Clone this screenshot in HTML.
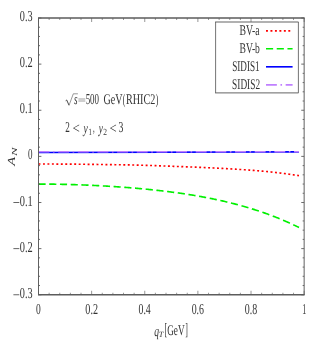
<!DOCTYPE html>
<html><head><meta charset="utf-8"><style>
html,body{margin:0;padding:0;background:#fff;}
svg{display:block}
text{font-family:"Liberation Serif",serif;fill:#333333;text-rendering:geometricPrecision;}
</style></head><body>
<svg width="322" height="343" viewBox="0 0 322 343">
<rect width="322" height="343" fill="#fff"/>
<g style="filter:blur(0.30px)">
<path d="M38.50 164.00 L39.37 164.00 L40.24 164.00 L40.44 164.00 M42.96 164.00 L43.73 164.00 L44.60 164.01 L44.91 164.01 M47.43 164.01 L48.08 164.01 L48.95 164.02 L49.37 164.02 M51.89 164.03 L52.44 164.03 L53.31 164.03 L53.84 164.04 M56.36 164.05 L56.80 164.05 L57.67 164.05 L58.30 164.06 M60.82 164.07 L61.15 164.07 L62.02 164.08 L62.76 164.09 M65.28 164.10 L65.51 164.10 L66.38 164.11 L67.23 164.12 M69.75 164.14 L69.86 164.14 L70.74 164.15 L71.61 164.15 L71.69 164.15 M74.21 164.18 L74.22 164.18 L75.09 164.19 L75.96 164.19 L76.16 164.20 M78.68 164.22 L79.45 164.23 L80.32 164.24 L80.62 164.24 M83.14 164.27 L83.80 164.28 L84.68 164.29 L85.08 164.29 M87.60 164.32 L88.16 164.33 L89.03 164.34 L89.55 164.34 M92.07 164.37 L92.52 164.38 L93.39 164.39 L94.01 164.40 M96.53 164.43 L96.87 164.44 L97.74 164.45 L98.47 164.46 M100.99 164.49 L101.23 164.49 L102.10 164.51 L102.94 164.52 M105.46 164.55 L105.59 164.56 L106.46 164.57 L107.33 164.58 L107.40 164.58 M109.92 164.62 L109.94 164.62 L110.81 164.63 L111.68 164.65 L111.87 164.65 M114.39 164.69 L115.17 164.70 L116.04 164.71 L116.33 164.72 M118.85 164.75 L119.53 164.77 L120.40 164.78 L120.79 164.79 M123.31 164.83 L123.88 164.83 L124.75 164.85 L125.26 164.86 M127.78 164.90 L128.24 164.90 L129.11 164.92 L129.72 164.93 M132.24 164.98 L132.59 164.99 L133.46 165.00 L134.18 165.02 M136.70 165.08 L136.95 165.09 L137.82 165.11 L138.65 165.13 M141.17 165.20 L141.31 165.20 L142.18 165.23 L143.05 165.25 L143.11 165.25 M145.63 165.33 L145.66 165.33 L146.53 165.36 L147.40 165.39 L147.57 165.39 M150.09 165.48 L150.89 165.50 L151.76 165.53 L152.04 165.54 M154.56 165.63 L155.25 165.65 L156.12 165.68 L156.50 165.70 M159.02 165.79 L159.60 165.81 L160.47 165.84 L160.96 165.86 M163.48 165.95 L163.96 165.97 L164.83 166.00 L165.42 166.02 M167.94 166.12 L168.31 166.13 L169.19 166.16 L169.89 166.19 M172.41 166.28 L172.67 166.29 L173.54 166.32 L174.35 166.35 M176.87 166.44 L177.03 166.45 L177.90 166.48 L178.77 166.51 L178.81 166.51 M181.33 166.60 L181.38 166.61 L182.25 166.64 L183.13 166.67 L183.27 166.68 M185.79 166.77 L186.61 166.81 L187.48 166.84 L187.74 166.85 M190.26 166.95 L190.97 166.98 L191.84 167.01 L192.20 167.03 M194.72 167.13 L195.32 167.15 L196.19 167.19 L196.66 167.21 M199.18 167.32 L199.68 167.34 L200.55 167.37 L201.12 167.40 M203.64 167.51 L204.04 167.53 L204.91 167.57 L205.58 167.60 M208.10 167.71 L208.39 167.73 L209.26 167.77 L210.05 167.81 M212.56 167.93 L212.75 167.94 L213.62 167.98 L214.49 168.02 L214.51 168.02 M217.03 168.15 L217.10 168.15 L217.97 168.20 L218.85 168.24 L218.97 168.25 M221.49 168.38 L222.33 168.43 L223.20 168.47 L223.43 168.49 M225.95 168.63 L226.69 168.67 L227.56 168.72 L227.89 168.73 M230.41 168.88 L231.04 168.92 L231.91 168.97 L232.35 168.99 M234.87 169.14 L235.40 169.18 L236.27 169.23 L236.81 169.26 M239.33 169.42 L239.76 169.45 L240.63 169.51 L241.27 169.55 M243.79 169.72 L244.11 169.74 L244.98 169.80 L245.73 169.85 M248.24 170.03 L248.47 170.05 L249.34 170.11 L250.18 170.17 M252.70 170.36 L252.82 170.37 L253.70 170.44 L254.57 170.50 L254.64 170.51 M257.16 170.71 L257.18 170.71 L258.05 170.78 L258.92 170.85 L259.10 170.87 M261.61 171.08 L262.41 171.15 L263.28 171.22 L263.55 171.25 M266.07 171.48 L266.76 171.55 L267.64 171.63 L268.01 171.67 M270.52 171.93 L271.12 171.99 L271.99 172.08 L272.46 172.13 M274.97 172.42 L275.48 172.47 L276.35 172.57 L276.91 172.64 M279.42 172.94 L279.83 172.99 L280.70 173.10 L281.36 173.18 M283.86 173.51 L284.19 173.55 L285.06 173.66 L285.80 173.76 M288.31 174.10 L288.55 174.13 L289.42 174.25 L290.24 174.37 M292.75 174.72 L292.90 174.74 L293.77 174.86 L294.64 174.99 L294.68 174.99 M297.19 175.36 L297.26 175.37 L298.13 175.50 L299.00 175.63" fill="none" stroke="#ff0000" stroke-width="1.65"/>
<path d="M38.50 184.10 L39.37 184.09 L40.24 184.09 L41.11 184.09 L41.98 184.09 L42.86 184.10 L43.73 184.10 L44.60 184.10 L45.47 184.11 L45.63 184.11 M49.23 184.13 L49.83 184.14 L50.70 184.15 L51.57 184.16 L52.44 184.17 L53.31 184.18 L54.18 184.19 L55.05 184.20 L55.92 184.21 L56.36 184.22 M59.96 184.28 L60.28 184.29 L61.15 184.30 L62.02 184.32 L62.89 184.34 L63.77 184.36 L64.64 184.38 L65.51 184.40 L66.38 184.42 L67.08 184.44 M70.68 184.54 L70.74 184.54 L71.61 184.56 L72.48 184.59 L73.35 184.62 L74.22 184.64 L75.09 184.67 L75.96 184.70 L76.83 184.73 L77.71 184.76 L77.81 184.76 M81.41 184.89 L82.06 184.92 L82.93 184.95 L83.80 184.98 L84.68 185.02 L85.55 185.05 L86.42 185.09 L87.29 185.13 L88.16 185.17 L88.53 185.18 M92.13 185.34 L92.52 185.36 L93.39 185.40 L94.26 185.45 L95.13 185.49 L96.00 185.53 L96.87 185.58 L97.74 185.62 L98.62 185.67 L99.25 185.70 M102.85 185.89 L102.97 185.90 L103.84 185.95 L104.71 186.00 L105.59 186.05 L106.46 186.10 L107.33 186.15 L108.20 186.21 L109.07 186.26 L109.94 186.31 L109.97 186.31 M113.57 186.54 L114.30 186.59 L115.17 186.65 L116.04 186.71 L116.91 186.77 L117.78 186.83 L118.65 186.89 L119.53 186.95 L120.40 187.01 L120.69 187.03 M124.28 187.29 L124.75 187.33 L125.62 187.40 L126.49 187.46 L127.37 187.53 L128.24 187.60 L129.11 187.67 L129.98 187.74 L130.85 187.81 L131.40 187.85 M134.99 188.16 L135.21 188.17 L136.08 188.25 L136.95 188.33 L137.82 188.40 L138.69 188.48 L139.56 188.56 L140.43 188.64 L141.31 188.72 L142.11 188.79 M145.70 189.13 L146.53 189.22 L147.40 189.30 L148.28 189.39 L149.15 189.48 L150.02 189.57 L150.89 189.66 L151.76 189.75 L152.63 189.84 L152.81 189.86 M156.40 190.24 L156.99 190.31 L157.86 190.40 L158.73 190.50 L159.60 190.60 L160.47 190.70 L161.34 190.80 L162.22 190.90 L163.09 191.01 L163.50 191.06 M167.09 191.49 L167.44 191.54 L168.31 191.65 L169.19 191.76 L170.06 191.87 L170.93 191.98 L171.80 192.09 L172.67 192.21 L173.54 192.32 L174.18 192.41 M177.77 192.90 L177.90 192.92 L178.77 193.04 L179.64 193.16 L180.51 193.29 L181.38 193.41 L182.25 193.54 L183.13 193.67 L184.00 193.80 L184.86 193.93 M188.43 194.48 L189.22 194.61 L190.10 194.74 L190.97 194.88 L191.84 195.03 L192.71 195.17 L193.58 195.31 L194.45 195.46 L195.32 195.60 L195.51 195.64 M199.08 196.26 L199.68 196.36 L200.55 196.52 L201.42 196.67 L202.29 196.83 L203.16 196.99 L204.04 197.15 L204.91 197.32 L205.78 197.48 L206.15 197.55 M209.72 198.25 L210.13 198.33 L211.01 198.50 L211.88 198.68 L212.75 198.86 L213.62 199.03 L214.49 199.22 L215.36 199.40 L216.23 199.58 L216.77 199.70 M220.32 200.47 L220.59 200.53 L221.46 200.73 L222.33 200.92 L223.20 201.12 L224.07 201.32 L224.94 201.52 L225.82 201.73 L226.69 201.93 L227.36 202.09 M230.90 202.96 L231.04 202.99 L231.91 203.21 L232.79 203.43 L233.66 203.65 L234.53 203.88 L235.40 204.10 L236.27 204.33 L237.14 204.56 L237.91 204.77 M241.44 205.73 L241.50 205.75 L242.37 205.99 L243.24 206.23 L244.11 206.48 L244.98 206.73 L245.85 206.98 L246.73 207.24 L247.60 207.50 L248.42 207.74 M251.94 208.81 L251.95 208.82 L252.82 209.09 L253.70 209.36 L254.57 209.64 L255.44 209.92 L256.31 210.20 L257.18 210.48 L258.05 210.77 L258.88 211.04 M262.38 212.23 L262.41 212.24 L263.28 212.54 L264.15 212.85 L265.02 213.15 L265.89 213.46 L266.76 213.78 L267.64 214.09 L268.51 214.41 L269.28 214.70 M272.76 216.00 L272.86 216.05 L273.73 216.38 L274.61 216.72 L275.48 217.06 L276.35 217.41 L277.22 217.75 L278.09 218.10 L278.96 218.46 L279.61 218.72 M283.06 220.16 L283.32 220.27 L284.19 220.65 L285.06 221.02 L285.93 221.40 L286.80 221.78 L287.67 222.17 L288.55 222.56 L289.42 222.95 L289.85 223.15 M293.27 224.73 L293.77 224.96 L294.64 225.38 L295.52 225.79 L296.39 226.21 L297.26 226.63 L298.13 227.06 L299.00 227.49" fill="none" stroke="#00f000" stroke-width="1.65"/>
<path d="M38.50 152.45 L299.00 151.85" fill="none" stroke="#0000ff" stroke-width="1.65"/>
<path d="M38.50 151.75 L39.37 151.75 L40.24 151.75 L41.11 151.75 L41.98 151.75 L42.86 151.75 L43.73 151.75 L44.60 151.75 L45.47 151.75 L46.34 151.75 L47.21 151.75 L48.08 151.75 L48.95 151.75 L49.37 151.75 M52.97 151.75 L53.31 151.75 L54.18 151.75 L54.56 151.75 M58.16 151.75 L58.54 151.75 L59.41 151.75 L60.28 151.75 L61.15 151.75 L62.02 151.75 L62.89 151.75 L63.77 151.75 L64.64 151.75 L65.51 151.75 L66.38 151.75 L67.25 151.75 L68.12 151.75 L68.99 151.75 L69.03 151.75 M72.63 151.75 L73.35 151.75 L74.21 151.75 M77.81 151.75 L78.58 151.75 L79.45 151.75 L80.32 151.75 L81.19 151.75 L82.06 151.75 L82.93 151.75 L83.80 151.75 L84.68 151.75 L85.55 151.75 L86.42 151.75 L87.29 151.75 L88.16 151.75 L88.68 151.75 M92.28 151.75 L92.52 151.75 L93.39 151.75 L93.87 151.75 M97.47 151.75 L97.74 151.75 L98.62 151.75 L99.49 151.75 L100.36 151.75 L101.23 151.75 L102.10 151.75 L102.97 151.75 L103.84 151.75 L104.71 151.75 L105.59 151.75 L106.46 151.75 L107.33 151.75 L108.20 151.75 L108.34 151.75 M111.94 151.75 L112.56 151.75 L113.43 151.75 L113.52 151.75 M117.12 151.75 L117.78 151.75 L118.65 151.75 L119.53 151.75 L120.40 151.75 L121.27 151.75 L122.14 151.75 L123.01 151.75 L123.88 151.75 L124.75 151.75 L125.62 151.75 L126.49 151.75 L127.37 151.75 L128.00 151.75 M131.60 151.75 L131.72 151.75 L132.59 151.75 L133.18 151.75 M136.78 151.75 L136.95 151.75 L137.82 151.75 L138.69 151.75 L139.56 151.75 L140.43 151.75 L141.31 151.75 L142.18 151.75 L143.05 151.75 L143.92 151.75 L144.79 151.75 L145.66 151.75 L146.53 151.75 L147.40 151.75 L147.65 151.75 M151.25 151.75 L151.76 151.75 L152.63 151.75 L152.84 151.75 M156.44 151.75 L156.99 151.75 L157.86 151.75 L158.73 151.75 L159.60 151.75 L160.47 151.75 L161.34 151.75 L162.22 151.75 L163.09 151.75 L163.96 151.75 L164.83 151.75 L165.70 151.75 L166.57 151.75 L167.31 151.75 M170.91 151.75 L170.93 151.75 L171.80 151.75 L172.49 151.75 M176.09 151.75 L176.16 151.75 L177.03 151.75 L177.90 151.75 L178.77 151.75 L179.64 151.75 L180.51 151.75 L181.38 151.75 L182.25 151.75 L183.13 151.75 L184.00 151.75 L184.87 151.75 L185.74 151.75 L186.61 151.75 L186.96 151.75 M190.56 151.75 L190.97 151.75 L191.84 151.75 L192.15 151.75 M195.75 151.75 L196.19 151.75 L197.07 151.75 L197.94 151.75 L198.81 151.75 L199.68 151.75 L200.55 151.75 L201.42 151.75 L202.29 151.75 L203.16 151.75 L204.04 151.75 L204.91 151.75 L205.78 151.75 L206.62 151.75 M210.22 151.75 L211.01 151.75 L211.80 151.75 M215.40 151.75 L216.23 151.75 L217.10 151.75 L217.97 151.75 L218.85 151.75 L219.72 151.75 L220.59 151.75 L221.46 151.75 L222.33 151.75 L223.20 151.75 L224.07 151.75 L224.94 151.75 L225.82 151.75 L226.28 151.75 M229.88 151.75 L230.17 151.75 L231.04 151.75 L231.46 151.75 M235.06 151.75 L235.40 151.75 L236.27 151.75 L237.14 151.75 L238.01 151.75 L238.88 151.75 L239.76 151.75 L240.63 151.75 L241.50 151.75 L242.37 151.75 L243.24 151.75 L244.11 151.75 L244.98 151.75 L245.85 151.75 L245.93 151.75 M249.53 151.75 L250.21 151.75 L251.08 151.75 L251.12 151.75 M254.72 151.75 L255.44 151.75 L256.31 151.75 L257.18 151.75 L258.05 151.75 L258.92 151.75 L259.79 151.75 L260.67 151.75 L261.54 151.75 L262.41 151.75 L263.28 151.75 L264.15 151.75 L265.02 151.75 L265.59 151.75 M269.19 151.75 L269.38 151.75 L270.25 151.75 L270.77 151.75 M274.37 151.75 L274.61 151.75 L275.48 151.75 L276.35 151.75 L277.22 151.75 L278.09 151.75 L278.96 151.75 L279.83 151.75 L280.70 151.75 L281.58 151.75 L282.45 151.75 L283.32 151.75 L284.19 151.75 L285.06 151.75 L285.24 151.75 M288.84 151.75 L289.42 151.75 L290.29 151.75 L290.43 151.75 M294.03 151.75 L294.64 151.75 L295.52 151.75 L296.39 151.75 L297.26 151.75 L298.13 151.75 L299.00 151.75" fill="none" stroke="#c080ff" stroke-width="1.65"/>
<path d="M38.00 18.00 H304.65 M38.00 294.75 H304.65" fill="none" stroke="#5c5c5c" stroke-width="1.3"/>
<path d="M38.50 18.00 V294.75 M304.15 18.00 V294.75" fill="none" stroke="#5c5c5c" stroke-width="0.98"/>
<path d="M38.50 294.75 v-4.00 M38.50 18.00 v4.00 M49.13 294.75 v-2.00 M49.13 18.00 v2.00 M59.75 294.75 v-2.00 M59.75 18.00 v2.00 M70.38 294.75 v-2.00 M70.38 18.00 v2.00 M81.00 294.75 v-2.00 M81.00 18.00 v2.00 M91.63 294.75 v-4.00 M91.63 18.00 v4.00 M102.26 294.75 v-2.00 M102.26 18.00 v2.00 M112.88 294.75 v-2.00 M112.88 18.00 v2.00 M123.51 294.75 v-2.00 M123.51 18.00 v2.00 M134.13 294.75 v-2.00 M134.13 18.00 v2.00 M144.76 294.75 v-4.00 M144.76 18.00 v4.00 M155.39 294.75 v-2.00 M155.39 18.00 v2.00 M166.01 294.75 v-2.00 M166.01 18.00 v2.00 M176.64 294.75 v-2.00 M176.64 18.00 v2.00 M187.26 294.75 v-2.00 M187.26 18.00 v2.00 M197.89 294.75 v-4.00 M197.89 18.00 v4.00 M208.52 294.75 v-2.00 M208.52 18.00 v2.00 M219.14 294.75 v-2.00 M219.14 18.00 v2.00 M229.77 294.75 v-2.00 M229.77 18.00 v2.00 M240.39 294.75 v-2.00 M240.39 18.00 v2.00 M251.02 294.75 v-4.00 M251.02 18.00 v4.00 M261.65 294.75 v-2.00 M261.65 18.00 v2.00 M272.27 294.75 v-2.00 M272.27 18.00 v2.00 M282.90 294.75 v-2.00 M282.90 18.00 v2.00 M293.52 294.75 v-2.00 M293.52 18.00 v2.00 M304.15 294.75 v-4.00 M304.15 18.00 v4.00" stroke="#5c5c5c" stroke-width="0.65" fill="none"/>
<path d="M38.50 294.75 h2.90 M304.15 294.75 h-2.90 M38.50 285.52 h1.50 M304.15 285.52 h-1.50 M38.50 276.30 h1.50 M304.15 276.30 h-1.50 M38.50 267.08 h1.50 M304.15 267.08 h-1.50 M38.50 257.85 h1.50 M304.15 257.85 h-1.50 M38.50 248.62 h2.90 M304.15 248.62 h-2.90 M38.50 239.40 h1.50 M304.15 239.40 h-1.50 M38.50 230.17 h1.50 M304.15 230.17 h-1.50 M38.50 220.95 h1.50 M304.15 220.95 h-1.50 M38.50 211.72 h1.50 M304.15 211.72 h-1.50 M38.50 202.50 h2.90 M304.15 202.50 h-2.90 M38.50 193.28 h1.50 M304.15 193.28 h-1.50 M38.50 184.05 h1.50 M304.15 184.05 h-1.50 M38.50 174.82 h1.50 M304.15 174.82 h-1.50 M38.50 165.60 h1.50 M304.15 165.60 h-1.50 M38.50 156.38 h2.90 M304.15 156.38 h-2.90 M38.50 147.15 h1.50 M304.15 147.15 h-1.50 M38.50 137.92 h1.50 M304.15 137.92 h-1.50 M38.50 128.70 h1.50 M304.15 128.70 h-1.50 M38.50 119.47 h1.50 M304.15 119.47 h-1.50 M38.50 110.25 h2.90 M304.15 110.25 h-2.90 M38.50 101.03 h1.50 M304.15 101.03 h-1.50 M38.50 91.80 h1.50 M304.15 91.80 h-1.50 M38.50 82.57 h1.50 M304.15 82.57 h-1.50 M38.50 73.35 h1.50 M304.15 73.35 h-1.50 M38.50 64.12 h2.90 M304.15 64.12 h-2.90 M38.50 54.90 h1.50 M304.15 54.90 h-1.50 M38.50 45.67 h1.50 M304.15 45.67 h-1.50 M38.50 36.45 h1.50 M304.15 36.45 h-1.50 M38.50 27.23 h1.50 M304.15 27.23 h-1.50 M38.50 18.00 h2.90 M304.15 18.00 h-2.90" stroke="#5c5c5c" stroke-width="0.9" fill="none"/>
<text transform="translate(19.83,21.10) scale(0.673,1.000)" font-size="15.20" fill="#474747">0.3</text>
<text transform="translate(19.82,67.22) scale(0.683,1.000)" font-size="15.20" fill="#474747">0.2</text>
<text transform="translate(19.82,113.35) scale(0.683,1.000)" font-size="15.20" fill="#474747">0.1</text>
<text transform="translate(27.98,159.47) scale(0.596,1.000)" font-size="15.20" fill="#474747">0</text>
<text transform="translate(19.82,205.60) scale(0.683,1.000)" font-size="15.20" fill="#474747">0.1</text>
<text transform="translate(19.82,251.72) scale(0.683,1.000)" font-size="15.20" fill="#474747">0.2</text>
<text transform="translate(19.83,297.85) scale(0.673,1.000)" font-size="15.20" fill="#474747">0.3</text>
<text transform="translate(36.11,313.70) scale(0.627,1.000)" font-size="15.20" fill="#474747">0</text>
<text transform="translate(85.36,313.70) scale(0.669,1.000)" font-size="15.20" fill="#474747">0.2</text>
<text transform="translate(138.51,313.70) scale(0.646,1.000)" font-size="15.20" fill="#474747">0.4</text>
<text transform="translate(191.63,313.70) scale(0.650,1.000)" font-size="15.20" fill="#474747">0.6</text>
<text transform="translate(244.76,313.70) scale(0.655,1.000)" font-size="15.20" fill="#474747">0.8</text>
<text transform="translate(302.23,313.70) scale(0.521,1.000)" font-size="15.20" fill="#474747">1</text>
<text transform="translate(74.00,104.30) scale(0.620,1.000)" font-size="14.80"><tspan font-style="italic">s</tspan></text>
<text transform="translate(85.63,104.30) scale(0.589,1.000)" font-size="15.20" fill="#474747">500</text>
<text transform="translate(103.52,104.30) scale(0.682,1.000)" font-size="14.80">GeV</text>
<text transform="translate(122.63,104.30) scale(0.516,1.000)" font-size="14.80">(</text>
<text transform="translate(125.89,104.30) scale(0.687,1.000)" font-size="14.80">RHIC2</text>
<text transform="translate(155.68,104.30) scale(0.533,1.000)" font-size="14.80">)</text>
<text transform="translate(65.37,132.20) scale(0.604,1.000)" font-size="15.20" fill="#474747">2</text>
<text transform="translate(72.50,133.40) scale(0.873,1.000)" font-size="14.80">&lt;</text>
<text transform="translate(83.56,132.80) scale(0.648,1.000)" font-size="14.80"><tspan font-style="italic">y</tspan></text>
<text transform="translate(88.42,135.20) scale(0.711,1.000)" font-size="9.40">1</text>
<text transform="translate(92.93,132.20) scale(0.444,1.000)" font-size="14.80">,</text>
<text transform="translate(98.63,132.80) scale(0.622,1.000)" font-size="14.80"><tspan font-style="italic">y</tspan></text>
<text transform="translate(103.15,135.20) scale(0.800,1.000)" font-size="9.40">2</text>
<text transform="translate(109.51,133.40) scale(0.858,1.000)" font-size="14.80">&lt;</text>
<text transform="translate(118.57,132.20) scale(0.640,1.000)" font-size="15.20" fill="#474747">3</text>
<text transform="translate(239.50,34.90) scale(0.657,1.000)" font-size="14.80">BV-a</text>
<text transform="translate(239.51,52.70) scale(0.647,1.000)" font-size="14.80">BV-b</text>
<text transform="translate(232.13,70.70) scale(0.619,1.000)" font-size="14.80">SIDIS1</text>
<text transform="translate(232.12,88.50) scale(0.629,1.000)" font-size="14.80">SIDIS2</text>
<text transform="translate(154.23,335.50) scale(0.646,1.000)" font-size="14.80"><tspan font-style="italic">q</tspan></text>
<text transform="translate(158.84,337.20) scale(1.029,1.000)" font-size="8.00"><tspan font-style="italic">T</tspan></text>
<text transform="translate(164.53,335.20) scale(0.554,1.180)" font-size="14.80">[</text>
<text transform="translate(167.16,334.60) scale(0.623,1.000)" font-size="14.80">GeV</text>
<text transform="translate(185.28,335.20) scale(0.533,1.180)" font-size="14.80">]</text>
<text transform="translate(15.30,0) rotate(-90) translate(-165.72,0) scale(0.945,0.700)" font-size="15.40"><tspan font-style="italic">A</tspan></text>
<text transform="translate(17.30,0) rotate(-90) translate(-155.90,0) scale(1.175,0.700)" font-size="11.00"><tspan font-style="italic">N</tspan></text>
<path d="M13.4 202.50 H19.3 M13.4 248.62 H19.3 M13.4 294.75 H19.3" stroke="#333333" stroke-width="0.75" fill="none"/>
<path d="M78.4 99.0 H85.3 M78.4 101.0 H85.3" stroke="#333333" stroke-width="0.48" fill="none"/>
<path d="M65.7 100.7 L66.7 100.0 L69.0 105.2" stroke="#333333" stroke-width="0.9" fill="none"/><path d="M69.0 105.4 L73.3 93.8 H77.9" stroke="#333333" stroke-width="0.5" fill="none"/>
<path d="M215.1 22.0 H298.5 M215.1 92.9 H298.5" fill="none" stroke="#5c5c5c" stroke-width="0.95"/><path d="M215.6 22.0 V92.9 M298.4 22.0 V92.9" fill="none" stroke="#5c5c5c" stroke-width="0.85"/>
<path d="M266.00 30.90 L267.40 30.90 L267.94 30.90 M270.46 30.90 L271.60 30.90 L272.41 30.90 M274.93 30.90 L275.80 30.90 L276.87 30.90 M279.39 30.90 L280.00 30.90 L281.34 30.90 M283.86 30.90 L284.20 30.90 L285.60 30.90 L285.80 30.90 M288.32 30.90 L288.40 30.90 L289.80 30.90 L290.26 30.90" fill="none" stroke-width="1.65" stroke="#ff0000"/>
<path d="M266.00 48.70 L267.40 48.70 L268.80 48.70 L270.20 48.70 L271.60 48.70 L273.00 48.70 L273.13 48.70 M276.73 48.70 L277.20 48.70 L278.60 48.70 L280.00 48.70 L281.40 48.70 L282.80 48.70 L283.86 48.70 M287.46 48.70 L288.40 48.70 L289.80 48.70 L291.20 48.70 L292.60 48.70" fill="none" stroke-width="1.65" stroke="#00f000"/>
<path d="M266.00 66.80 H292.60" fill="none" stroke-width="1.65" stroke="#0000ff"/>
<path d="M266.00 84.80 L267.40 84.80 L268.80 84.80 L270.20 84.80 L271.60 84.80 L273.00 84.80 L274.40 84.80 L275.80 84.80 L276.87 84.80 M280.47 84.80 L281.40 84.80 L282.06 84.80 M285.66 84.80 L287.00 84.80 L288.40 84.80 L289.80 84.80 L291.20 84.80 L292.60 84.80" fill="none" stroke-width="1.65" stroke="#c080ff"/>
</g></svg></body></html>
